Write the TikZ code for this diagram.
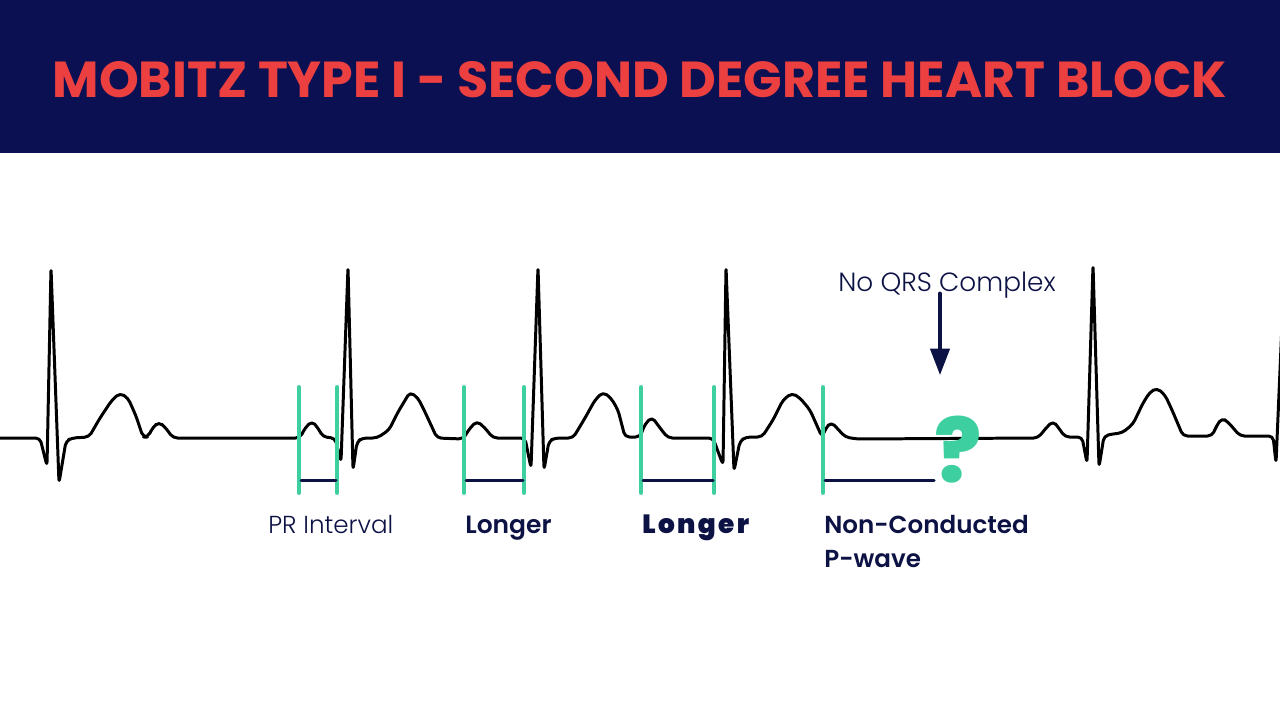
\documentclass[tikz,border=0pt]{standalone}
\usepackage{fontspec}
\setmainfont{Poppins}
\newfontfamily\poplight{Poppins Light}
\newfontfamily\popsemi{Poppins SemiBold}
\newfontfamily\popblack{Poppins Black}[LetterSpace=9]
\newfontfamily\popxbold{Poppins ExtraBold}
\usepackage{tikz}
\usetikzlibrary{arrows.meta, calc}

\definecolor{bandnavy}{HTML}{0A1052}
\definecolor{titlered}{HTML}{EC4040}
\definecolor{textnavy}{HTML}{0D1245}
\definecolor{markgreen}{HTML}{3DCFA0}

\tikzset{
  trace/.style={line width=1.7pt, black, rounded corners=2.5pt},
  marker/.style={line width=2.2pt, markgreen},
  bar/.style={line width=1.7pt, textnavy},
  lbl/.style={color=textnavy, anchor=base west, inner sep=0pt}
}

\begin{document}
\begin{tikzpicture}[line cap=round,line join=round,>={Triangle[length=15pt,width=11pt]},x=0.02cm,y=-0.02cm]
\clip(0,0) rectangle (1280,720);

% title band
\fill[bandnavy] (0,0) rectangle (1280,153);
\draw[color=titlered] (640,97) node[anchor=base,inner sep=0pt] (title)
  {\fontsize{28.8}{32}\selectfont\bfseries MOBITZ TYPE I - SECOND DEGREE HEART BLOCK};

% ecg trace
\draw[trace] (0,438) -- (40,438) -- (47,466) -- (51,268) -- (59,483) -- (66,441) -- (72,438) -- (89,437)
  -- (100,418) -- (112,400) -- (120,393) -- (128,398) -- (136,416) -- (143,437) -- (148,437)
  -- (153,427) -- (159,422) -- (165,427) -- (173,438) -- (300,438)
  -- (305,428) -- (312,421) -- (318,428) -- (323,437) -- (335,438)
  -- (341,462) -- (348,267) -- (353,470) -- (357,442) -- (362,438) -- (377,438)
  -- (389,430) -- (398,412) -- (410,392) -- (418,398) -- (425,412) -- (437,438) -- (463,439)
  -- (470,428) -- (477,421) -- (485,428) -- (493,438) -- (525,438)
  -- (531,468) -- (538,267) -- (544,470) -- (549,441) -- (555,438) -- (573,438)
  -- (585,418) -- (595,400) -- (603,392) -- (611,398) -- (618,410) -- (625,437) -- (640,437)
  -- (645,424) -- (652,417) -- (660,428) -- (668,438) -- (713,438)
  -- (723,465) -- (726,267) -- (734,471) -- (740,441) -- (746,437) -- (762,437)
  -- (773,420) -- (783,400) -- (792,393) -- (800,398) -- (810,410) -- (822,437)
  -- (826,428) -- (831,422) -- (837,428) -- (845,437) -- (857,439) -- (1038,438)
  -- (1046,428) -- (1053,421) -- (1058,427) -- (1065,437) -- (1082,437)
  -- (1087,463) -- (1093,265) -- (1099,467) -- (1104,436) -- (1112,434) -- (1122,433) -- (1133,424)
  -- (1143,403) -- (1150,392) -- (1157,388) -- (1165,395) -- (1172,410) -- (1183,436) -- (1212,436)
  -- (1217,425) -- (1222,418) -- (1228,422) -- (1240,436) -- (1273,436)
  -- (1276,463) -- (1283,300);

% interval markers
\coordinate (P1) at (299,387);
\coordinate (R1) at (337,387);
\coordinate (P2) at (464,387);
\coordinate (R2) at (524,387);
\coordinate (P3) at (641,387);
\coordinate (R3) at (714,387);
\coordinate (P4) at (823,387);
\coordinate (Q4) at (934,480);

\draw[marker] (P1) -- ++(0,106);
\draw[marker] (R1) -- ++(0,106);
\draw[marker] (P2) -- ++(0,106);
\draw[marker] (R2) -- ++(0,106);
\draw[marker] (P3) -- ++(0,106);
\draw[marker] (R3) -- ++(0,106);
\draw[marker] (P4) -- ++(0,106);

\draw[bar] ($(P1)+(2,93)$) -- ($(R1)+(-1,93)$);
\draw[bar] ($(P2)+(2,93)$) -- ($(R2)+(-1,93)$);
\draw[bar] ($(P3)+(2,93)$) -- ($(R3)+(-1,93)$);
\draw[bar] ($(P4)+(2,93)$) -- (Q4);

% labels
\draw (268,533) node[lbl] (prlbl) {\fontsize{14}{17}\selectfont\poplight PR Interval};
\draw (465,533) node[lbl] (long1) {\fontsize{14.2}{17}\selectfont\popsemi Longer};
\draw (642,533) node[lbl] (long2) {\fontsize{15}{18}\selectfont\popblack Longer};
\draw (824,533) node[lbl] (nclbl) {\fontsize{14}{17}\selectfont\popsemi Non-Conducted};
\draw (824,567) node[lbl] (pwlbl) {\fontsize{14}{17}\selectfont\popsemi P-wave};
\draw (838,291) node[lbl] (noqrs) {\fontsize{15}{18}\selectfont\poplight No QRS Complex};

\draw[color=markgreen] (958,482) node[anchor=base,inner sep=0pt] (qmark)
  {\fontsize{50}{54}\selectfont\popxbold ?};

\coordinate (tip) at (940,375);
\draw[->,line width=1.8pt,textnavy] (noqrs.south -| tip) ++(0,-5) -- (tip);

\end{tikzpicture}
\end{document}
